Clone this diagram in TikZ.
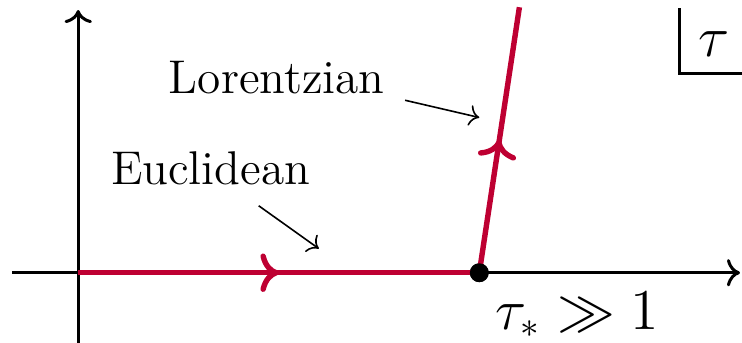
\documentclass[tikz,border=0pt]{standalone}
\usepackage{tikz}
\usetikzlibrary{arrows.meta, positioning, calc, decorations.markings}
\usepackage{amsmath, amssymb}
\definecolor{contour}{RGB}{190,0,50}

\begin{document}
\begin{tikzpicture}[x=10pt, y=10pt,
  every node/.style={font=\fontsize{11.8}{14}\selectfont},
  axis/.style={line width=0.75pt, ->},
  contourline/.style={contour, line width=1.35pt,
    postaction={decorate, decoration={markings, mark=at position 0.5 with {\arrow{>}}}}},
  pointer/.style={line width=0.4pt, ->}]
  \useasboundingbox (-1.95,-1.75) rectangle (16.55,6.8);

  % axes
  \coordinate (o) at (0,0);
  \draw[axis] (-1.65,0) -- (16.5,0);
  \draw[axis] (0,-1.75) -- (0,6.55);

  % time contour
  \node[circle, fill=black, inner sep=0pt, minimum size=4.7pt] (tstar) at (10,0) {};
  \coordinate (top) at (11.0,6.62);
  \draw[contourline] (o) -- (tstar.center);
  \draw[contourline] (tstar.center) -- (top);
  \node[circle, fill=black, inner sep=0pt, minimum size=4.7pt] at (tstar) {};

  % labels
  \node (lor) at (4.95,4.87) {Lorentzian};
  \coordinate (lorend) at (10.0,3.87);
  \draw[pointer] (8.15,4.3) -- (lorend);

  \node (euc) at (3.3,2.6) {Euclidean};
  \coordinate (eucend) at (6.0,0.6);
  \draw[pointer] (4.5,1.67) -- (eucend);

  \node[font=\fontsize{13.5}{16}\selectfont] (tlabel) at (12.45,-1.05) {$\tau_* \gg 1$};

  % variable box
  \draw[line width=0.75pt] (15.0,6.6) -- (15.0,4.97) -- (16.6,4.97);
  \node[font=\fontsize{13.5}{16}\selectfont] (tau) at (15.85,5.7) {$\tau$};
\end{tikzpicture}
\end{document}
